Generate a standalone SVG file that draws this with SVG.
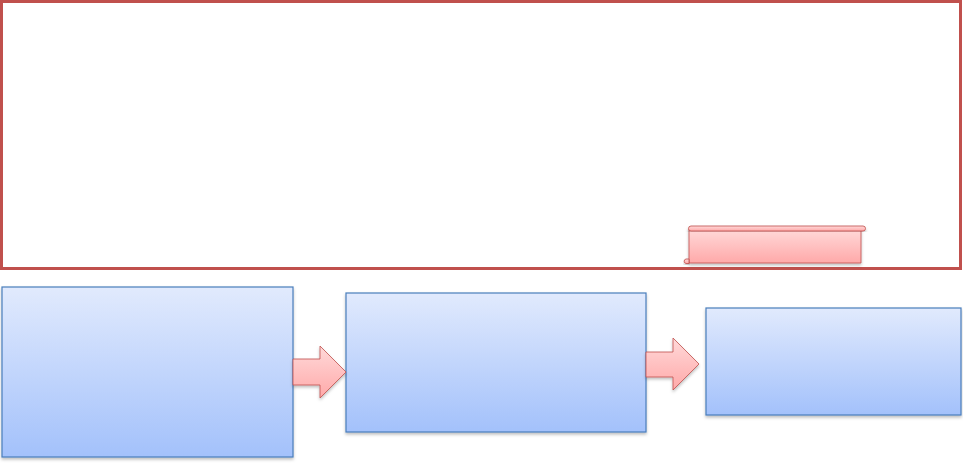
<svg xmlns="http://www.w3.org/2000/svg" width="963" height="464" viewBox="0 0 963 464">
<defs>
<linearGradient id="blue" x1="0" y1="0" x2="0" y2="1">
<stop offset="0" stop-color="#e1eafd"/>
<stop offset="1" stop-color="#a3c1fb"/>
</linearGradient>
<linearGradient id="red" x1="0" y1="0" x2="0" y2="1">
<stop offset="0" stop-color="#ffd9d9"/>
<stop offset="1" stop-color="#ffa9a9"/>
</linearGradient>
<filter id="sh" x="-10%" y="-10%" width="120%" height="130%">
<feDropShadow dx="0" dy="2" stdDeviation="1.5" flood-color="#000" flood-opacity="0.25"/>
</filter>
<style>
.box{fill:url(#blue);stroke:#4a7ebb;stroke-width:1.2;filter:url(#sh)}
.arr{fill:url(#red);stroke:#c0504d;stroke-width:0.9;stroke-opacity:0.9;filter:url(#sh)}
</style>
</defs>
<g id="frame">
<rect x="1.5" y="1.5" width="959" height="267" fill="#fff" stroke="#c0504d" stroke-width="3"/>
</g>
<g id="scroll">
<path class="arr" d="M689,229 L861,229 L861,263 L689,263 Z"/>
<path class="arr" d="M691,226 L863,226 A2.5,2.5 0 0 1 863,231 L691,231 A2.5,2.5 0 0 1 691,226 Z"/>
<path class="arr" d="M689,259 L686,259 A2.3,2.3 0 0 0 686,263.5 L689,263.5 Z"/>
</g>
<g id="box1"><rect class="box" x="2" y="287" width="291" height="170"/></g>
<g id="box2"><rect class="box" x="346" y="293" width="300" height="139"/></g>
<g id="box3"><rect class="box" x="706" y="308" width="255" height="107"/></g>
<g id="connectors">
<path class="arr" d="M293,359 L320,359 L320,346 L346,372 L320,398 L320,385 L293,385 Z"/>
<path class="arr" d="M646,352 L673,352 L673,338 L699,364 L673,390 L673,377 L646,377 Z"/>
</g>
</svg>
